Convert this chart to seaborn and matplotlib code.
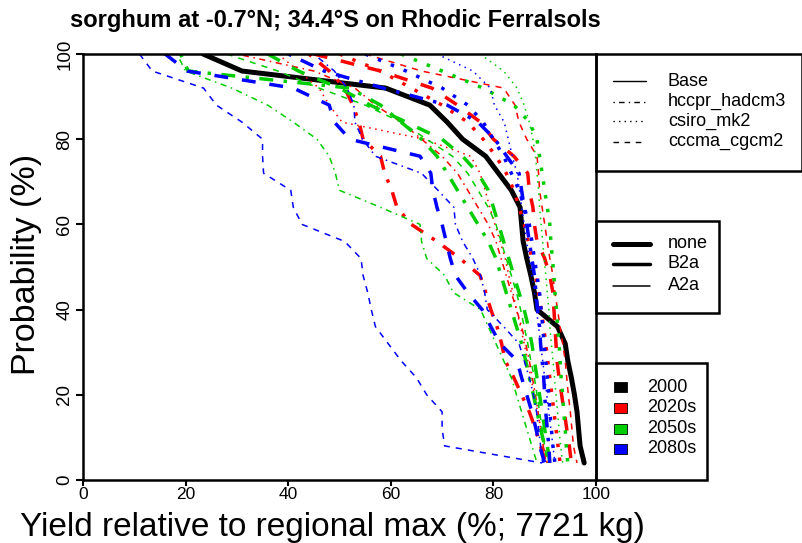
import numpy as np
import pandas as pd
import matplotlib
matplotlib.use("Agg")
import matplotlib.pyplot as plt
from matplotlib.lines import Line2D
from matplotlib.patches import Rectangle
import seaborn as sns

# ---------------- data ----------------
prob = [100, 96, 92, 88, 84, 80, 76, 72, 68, 64, 60, 56, 52, 48, 44, 40, 36, 32, 28, 24, 20, 16, 12, 8, 4]

base_2000 = [23.4, 31, 59, 67.6, 71, 74, 78.5, 81, 83.5, 85.2, 85.5, 85.8, 86.5, 87.3, 88, 88.5, 92.5, 94, 94.5, 95.2, 95.8, 96.3, 96.6, 96.9, 97.7]

# 2020s (red)
red_hccpr_B2a = [44, 48, 51, 52.6, 53.8, 54.6, 58, 58.8, 60.2, 61.2, 64, 69, 73.5, 77.4, 78.5, 79.5, 80.7, 81.6, 82.3, 84, 85.5, 87, 88.2, 89.2, 90.2]
red_hccpr_A2a = [30, 45, 53, 57, 62, 66, 70, 73, 75, 77, 79, 80.5, 81.5, 82.5, 83.5, 84.5, 85.5, 86.3, 87, 87.6, 88.2, 88.7, 89.2, 89.7, 90.5]
red_csiro_B2a = [50, 58, 64, 70, 75, 78, 80.5, 82.5, 84, 85, 86, 86.8, 87.5, 88.2, 88.8, 89.3, 89.8, 90.2, 90.6, 91, 91.4, 91.8, 92.2, 92.6, 93]
red_csiro_A2a = [38, 42, 46, 48, 50.5, 66.5, 75.6, 77.4, 78.4, 79.3, 80.3, 81.3, 82.3, 83, 83.8, 84.5, 85.3, 86, 86.7, 87.3, 88, 88.6, 89.2, 89.8, 90.5]
red_cccma_B2a = [45, 58, 68, 73, 77.5, 80, 84, 86.7, 87, 87.7, 88, 88.5, 90, 91, 91.6, 91.8, 92, 92.2, 92.4, 92.8, 93.3, 93.8, 94.3, 94.8, 95.2]
red_cccma_A2a = [55, 66, 82, 84.2, 85, 86.5, 88.5, 88.8, 89, 89.5, 90, 90.5, 91, 91.6, 92, 92.5, 93, 93.5, 94, 94.3, 94.6, 95, 95.3, 95.6, 96.3]

# 2050s (green)
green_hccpr_B2a = [19, 20.5, 52, 58, 62, 66, 69, 71, 73, 75, 77, 79, 80.5, 81.5, 82.5, 83.5, 84.5, 85.5, 86.3, 87, 87.8, 88.5, 89.2, 90, 91]
green_hccpr_A2a = [18.3, 20, 29, 36, 41, 45.6, 48, 49.2, 50, 58, 65.7, 66, 67, 70.5, 72.2, 77.5, 79, 80.5, 82, 83.5, 84.5, 85.5, 86.5, 87.5, 88.5]
green_csiro_B2a = [62, 70, 78, 84, 87, 88.5, 89, 89.5, 90, 90.5, 91, 91.2, 91.5, 91.8, 92, 92.3, 92.5, 92.8, 93, 93.2, 93.5, 93.7, 94, 94.2, 94.5]
green_csiro_A2a = [77.4, 82, 84.6, 86, 87, 87.7, 88.2, 88.5, 88.8, 89, 89.3, 89.6, 89.9, 90.2, 90.5, 90.8, 91, 91.3, 91.6, 91.9, 92.2, 92.5, 92.8, 93.1, 93.5]
green_cccma_B2a = [36, 42, 50, 56, 63, 70, 74, 77, 79, 80, 81, 82, 83, 84, 85, 86, 86.8, 87.5, 88, 88.5, 89, 89.5, 90, 90.5, 91]
green_cccma_A2a = [28, 38, 46, 55, 62, 67, 72, 75, 77, 79, 80.5, 81.5, 82.5, 83.5, 84.5, 85.3, 86, 86.7, 87.3, 88, 88.5, 89, 89.5, 90, 90.5]

# 2080s (blue)
blue_hccpr_B2a = [40, 47, 58.5, 71, 77, 80.3, 82.6, 85, 85.5, 86, 86.5, 87, 87.5, 88, 88.3, 88.6, 89, 89.2, 89.5, 89.8, 90, 90.2, 90.5, 90.8, 91]
blue_hccpr_A2a = [45, 49, 51.5, 52.8, 53, 54.5, 57, 66, 69.2, 72.3, 72.6, 74, 76, 77.5, 78.3, 78.8, 82, 85, 86, 87, 87.8, 88.4, 88.8, 89.2, 89.6]
blue_csiro_B2a = [55, 63, 70, 75, 78, 80, 82, 83.5, 85, 86, 87, 87.5, 88, 88.5, 89, 89.3, 89.6, 89.9, 90.2, 90.5, 90.8, 91, 91.3, 91.6, 92]
blue_csiro_A2a = [69, 76, 79.4, 80.2, 82.1, 82.9, 83.7, 84.6, 85.1, 85.5, 86, 86.5, 87, 87.5, 88, 88.4, 88.8, 89.2, 89.6, 90, 90.4, 90.8, 91.2, 91.6, 92]
blue_cccma_B2a = [16, 20.3, 41, 48, 49, 52, 65.7, 67.8, 68.2, 69, 70, 70.8, 71.6, 72.6, 75, 77.8, 79.5, 81.3, 84.6, 85.5, 86.5, 87.5, 88.3, 89, 90]
blue_cccma_A2a = [11, 13.5, 23.5, 26, 31, 35, 35, 35.2, 40.5, 41, 42.7, 51, 54.2, 54.6, 55.5, 56.2, 57, 59.5, 62, 65, 67, 70, 70, 70.5, 89.5]

period_labels = ["2000", "2020s", "2050s", "2080s"]
gcm_labels = ["Base", "hccpr_hadcm3", "csiro_mk2", "cccma_cgcm2"]
scen_labels = ["none", "B2a", "A2a"]

# ---------------- styles ----------------
col = {"2000": "#000000", "2020s": "#FF0000", "2050s": "#00CD00", "2080s": "#0000FF"}
lst = {"Base": "solid", "hccpr_hadcm3": (0, (1, 3, 4, 3)),
       "csiro_mk2": (0, (1, 3)), "cccma_cgcm2": (0, (4, 4))}
lwd = {"none": 3.6, "B2a": 2.5, "A2a": 1.1}

curves = [
    ("2000", "Base", "none", base_2000),
    ("2020s", "hccpr_hadcm3", "B2a", red_hccpr_B2a),
    ("2020s", "hccpr_hadcm3", "A2a", red_hccpr_A2a),
    ("2020s", "csiro_mk2", "B2a", red_csiro_B2a),
    ("2020s", "csiro_mk2", "A2a", red_csiro_A2a),
    ("2020s", "cccma_cgcm2", "B2a", red_cccma_B2a),
    ("2020s", "cccma_cgcm2", "A2a", red_cccma_A2a),
    ("2050s", "hccpr_hadcm3", "B2a", green_hccpr_B2a),
    ("2050s", "hccpr_hadcm3", "A2a", green_hccpr_A2a),
    ("2050s", "csiro_mk2", "B2a", green_csiro_B2a),
    ("2050s", "csiro_mk2", "A2a", green_csiro_A2a),
    ("2050s", "cccma_cgcm2", "B2a", green_cccma_B2a),
    ("2050s", "cccma_cgcm2", "A2a", green_cccma_A2a),
    ("2080s", "hccpr_hadcm3", "B2a", blue_hccpr_B2a),
    ("2080s", "hccpr_hadcm3", "A2a", blue_hccpr_A2a),
    ("2080s", "csiro_mk2", "B2a", blue_csiro_B2a),
    ("2080s", "csiro_mk2", "A2a", blue_csiro_A2a),
    ("2080s", "cccma_cgcm2", "B2a", blue_cccma_B2a),
    ("2080s", "cccma_cgcm2", "A2a", blue_cccma_A2a),
]

rows = []
for i, (per, gcm, scen, xs) in enumerate(curves):
    for x, p in zip(xs, prob):
        rows.append({"id": i, "period": per, "gcm": gcm, "scen": scen, "yield": x, "prob": p})
df = pd.DataFrame(rows)

# ---------------- figure ----------------
sns.set_theme(style="white")
plt.rcParams["font.family"] = ["Liberation Sans", "DejaVu Sans"]
plt.rcParams["text.color"] = "black"
plt.rcParams["axes.labelcolor"] = "black"
plt.rcParams["xtick.color"] = "black"
plt.rcParams["ytick.color"] = "black"

W, H = 803, 543
fig = plt.figure(figsize=(W / 100, H / 100), dpi=100)
L, R, T, B = 83, 596, 54, 480
ax = fig.add_axes([L / W, 1 - B / H, (R - L) / W, (B - T) / H])

for i, (per, gcm, scen, xs) in enumerate(curves):
    sub = df[df["id"] == i]
    sns.lineplot(data=sub, x="yield", y="prob", ax=ax, color=col[per],
                 linewidth=lwd[scen], linestyle=lst[gcm], estimator=None,
                 sort=False, legend=False, solid_joinstyle="round",
                 dash_capstyle="butt", solid_capstyle="round")

ax.set_xlim(0, 100)
ax.set_ylim(0, 100)
ax.set_xticks([0, 20, 40, 60, 80, 100])
ax.set_yticks([0, 20, 40, 60, 80, 100])
ax.set_xlabel("")
ax.set_ylabel("")
for s in ax.spines.values():
    s.set_color("black")
    s.set_linewidth(1.8)
ax.tick_params(axis="both", which="both", direction="out", length=5, width=1.5,
               color="black", labelsize=13.5, labelcolor="black", pad=2,
               bottom=True, left=True)
ax.tick_params(axis="x", length=4, pad=1, labelsize=12.5)
ax.tick_params(axis="y", labelrotation=90)
for lab in ax.get_yticklabels():
    lab.set_va("center")

fig.text(70 / W, 1 - 21 / H, "sorghum at -0.7°N; 34.4°S on Rhodic Ferralsols",
         fontsize=17, fontweight="bold", ha="left", va="center", color="black")
fig.text(332 / W, 1 - 536 / H, "Yield relative to regional max (%; 7721 kg)",
         fontsize=24, ha="center", va="baseline", color="black")
fig.text(27 / W, 1 - 264 / H, "Probability (%)", fontsize=24.5, rotation=90,
         ha="center", va="center", color="black")

# ---------------- legend panels (pixel-space overlay) ----------------
ov = fig.add_axes([0, 0, 1, 1], zorder=5)
ov.set_xlim(0, W)
ov.set_ylim(H, 0)
ov.axis("off")
ov.patch.set_alpha(0)
blw = 1.8
ov.add_patch(Rectangle((R, T), 802 - R, 171 - T, fill=False, lw=blw, ec="black"))
ov.add_patch(Rectangle((R, 221), 719 - R, 313 - 221, fill=False, lw=blw, ec="black"))
ov.add_patch(Rectangle((R, 363), 707 - R, B - 363, fill=False, lw=blw, ec="black"))

rows1 = [81, 101.5, 121, 141.5]
for g, yy in zip(gcm_labels, rows1):
    ov.add_line(Line2D([613, 646], [yy, yy], color="black", lw=1.0, linestyle=lst[g]))
    ov.text(668, yy, g, fontsize=13, va="center", ha="left", color="black")

rows2 = [244, 264, 286]
for s, yy in zip(scen_labels, rows2):
    ov.add_line(Line2D([613, 650], [yy, yy], color="black", lw=lwd[s], solid_capstyle="round"))
    ov.text(668, yy, s, fontsize=13, va="center", ha="left", color="black")

rows3 = [387, 408, 428.5, 448.5]
for p, yy in zip(period_labels, rows3):
    ov.add_patch(Rectangle((614, yy - 5), 13, 10, fc=col[p], ec="black", lw=0.6))
    ov.text(647, yy, p, fontsize=13, va="center", ha="left", color="black")

fig.savefig("out.png", dpi=100, facecolor="white")
